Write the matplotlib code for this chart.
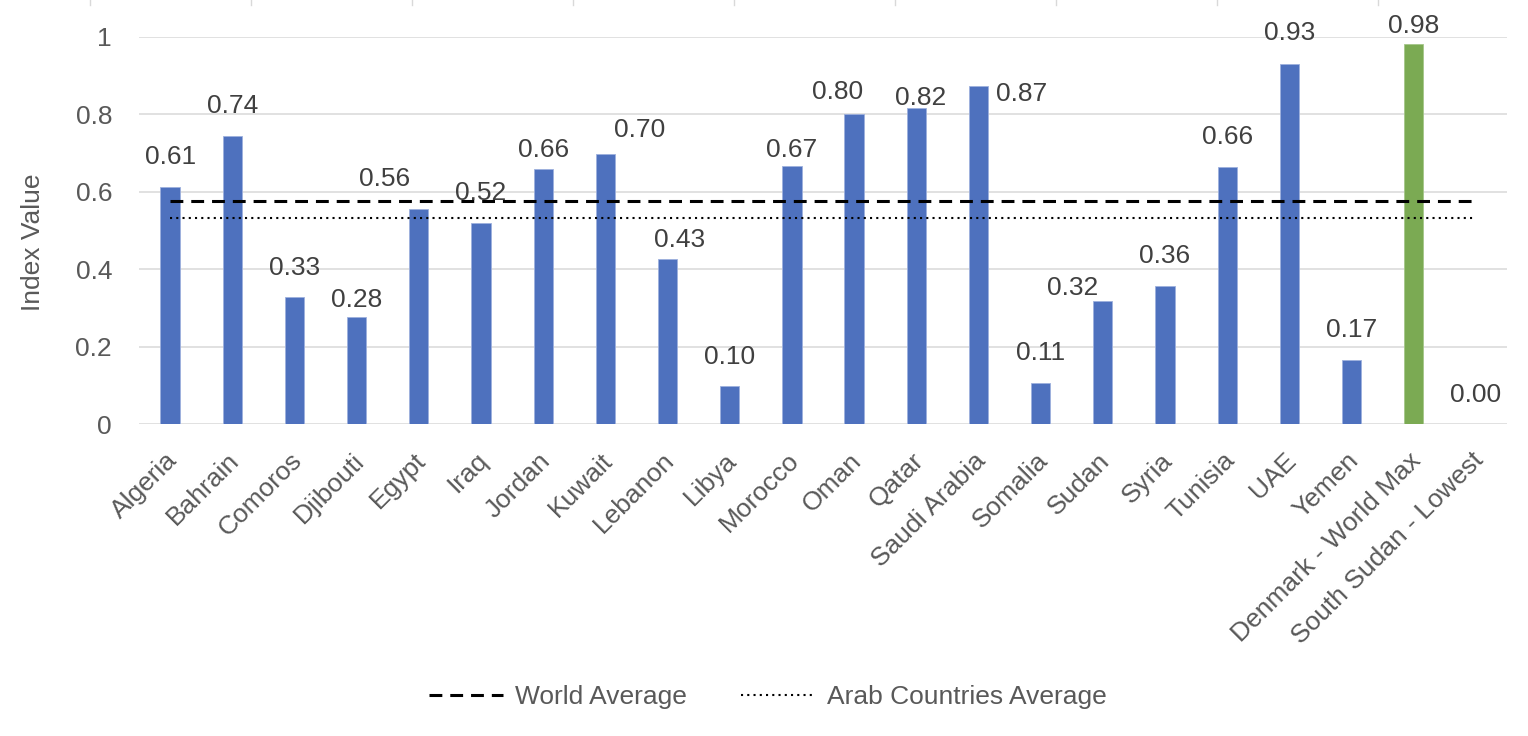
import matplotlib
matplotlib.use("Agg")
import matplotlib.pyplot as plt
import matplotlib.transforms as mtransforms
from matplotlib.lines import Line2D
import numpy as np

plt.rcParams['font.family'] = ['Liberation Sans', 'DejaVu Sans']

# ---- data ----
categories = ["Algeria", "Bahrain", "Comoros", "Djibouti", "Egypt", "Iraq", "Jordan",
              "Kuwait", "Lebanon", "Libya", "Morocco", "Oman", "Qatar", "Saudi Arabia",
              "Somalia", "Sudan", "Syria", "Tunisia", "UAE", "Yemen",
              "Denmark - World Max", "South Sudan - Lowest"]
index_values = [0.612, 0.744, 0.329, 0.276, 0.556, 0.520, 0.659, 0.697, 0.426, 0.098,
                0.667, 0.801, 0.817, 0.873, 0.106, 0.318, 0.357, 0.664, 0.930, 0.165,
                0.982, 0.0]
world_average = 0.576
arab_average = 0.532
y_ticks = [0, 0.2, 0.4, 0.6, 0.8, 1.0]
y_tick_labels = ["0", "0.2", "0.4", "0.6", "0.8", "1"]
highlight = "Denmark - World Max"

# ---- label placement (pixel offsets of label centre from bar top) ----
label_offsets = [(0, -30), (0, -30), (0, -29), (0, -17), (-34, -30), (0, -30), (0, -19),
                 (34, -24), (12, -19), (0, -29), (0, -16), (-17, -22), (4, -10), (43, 8),
                 (0, -30), (-30, -13), (0, -30), (0, -30), (0, -31), (0, -30),
                 (0, -18), (0, -29)]

W, H = 1528, 736
fig = plt.figure(figsize=(W / 100, H / 100), dpi=100)
ax = fig.add_axes([139 / W, 1 - 424 / H, 1368 / W, 387 / H])

blue = "#4E71BE"
green = "#7BAA53"
n = len(categories)
x = np.arange(n)
colors = [green if c == highlight else blue for c in categories]
edges = ["#9DB0DD" if c != highlight else "#A5C68A" for c in categories]

ax.set_axisbelow(True)
ax.bar(x, index_values, width=0.31, color=colors, edgecolor=edges, linewidth=0.6, zorder=2)

ax.plot(x, [world_average] * n, color="black", lw=2.2, linestyle=(0, (4.2, 2.6)),
        dash_capstyle="butt", zorder=3)
ax.plot(x, [arab_average] * n, color="black", lw=1.5, linestyle=(0, (1, 2.0)),
        dash_capstyle="butt", zorder=3)

for i, v in enumerate(index_values):
    dx, dy = label_offsets[i]
    ax.annotate(f"{v:.2f}", xy=(x[i], v), xytext=(dx, -dy), textcoords="offset pixels",
                ha="center", va="center", fontsize=19, color="#404040",
                annotation_clip=False, zorder=4)

ax.set_xlim(-0.5, n - 0.5)
ax.set_ylim(0, 1)
ax.set_yticks(y_ticks)
ax.set_yticklabels(y_tick_labels)
ax.grid(axis="y", color="#D9D9D9", linewidth=1.1)
ax.grid(axis="x", visible=False)
for s in ax.spines.values():
    s.set_visible(False)

ax.tick_params(axis="y", length=0, pad=19.4, labelsize=19, labelcolor="#595959")
ax.tick_params(axis="x", length=0, pad=17.5, labelsize=19, labelcolor="#595959")
ax.set_xticks(x)
ax.set_xticklabels(categories, rotation=45, ha="right", va="top", rotation_mode="anchor")
offset = mtransforms.ScaledTranslation(-5 / 100, 0, fig.dpi_scale_trans)
for lbl in ax.get_xticklabels():
    lbl.set_transform(lbl.get_transform() + offset)

ax.set_ylabel("Index Value", fontsize=19, color="#595959")
ax.yaxis.set_label_coords((45 - 139) / 1368, 0.47)

handles = [
    Line2D([], [], color="black", lw=2.2, linestyle=(0, (4.2, 2.6)), dash_capstyle="butt"),
    Line2D([], [], color="black", lw=1.5, linestyle=(0, (1, 2.0)), dash_capstyle="butt"),
]
leg = fig.legend(handles, ["World Average", "Arab Countries Average"], loc="center",
                 bbox_to_anchor=(768 / W, 1 - 697 / H), ncol=2, frameon=False,
                 fontsize=19, handlelength=2.8, handletextpad=0.45, columnspacing=2.05)
for t in leg.get_texts():
    t.set_color("#595959")

# faint tick marks along the very top edge
for k in range(9):
    xp = (90 + 161 * k) / W
    fig.add_artist(Line2D([xp, xp], [1, 1 - 5 / H], color="#D9D9D9", lw=1.0,
                          transform=fig.transFigure))

fig.savefig("out.png", dpi=100)
